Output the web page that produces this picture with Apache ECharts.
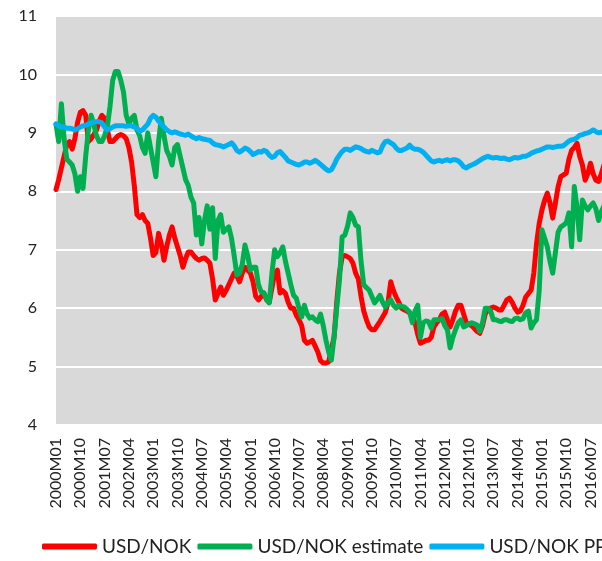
<!DOCTYPE html>
<html>
<head>
<meta charset="utf-8">
<script src="https://cdn.jsdelivr.net/npm/echarts@6/dist/echarts.min.js"></script>
<style>
  html, body { margin: 0; padding: 0; background: #fff; }
  #chart { width: 602px; height: 561px; }
</style>
</head>
<body>
<div id="chart"></div>
<script>
// monthly categories 2000M01 .. 2016M12
const firstYear = 2000;
const lastYear = 2016;
const months = [];
for (let y = firstYear; y <= lastYear; y++) {
    for (let m = 1; m <= 12; m++) {
        months.push(y + 'M' + (m < 10 ? '0' + m : m));
    }
}

const seriesNames = ['USD/NOK', 'USD/NOK estimate', 'USD/NOK PPI'];

// USD/NOK, actual rate
const usdNok = [
    8.03, 8.2, 8.4, 8.6, 8.8, 8.85, 8.72, 8.9, 9.18, 9.35, 9.38, 9.3,
    8.85, 8.9, 8.97, 9.05, 9.2, 9.3, 9.25, 9.05, 8.85, 8.85, 8.9, 8.95,
    8.97, 8.95, 8.9, 8.75, 8.5, 8.1, 7.6, 7.55, 7.6, 7.5, 7.45, 7.2,
    6.9, 6.95, 7.28, 7.1, 6.82, 7.05, 7.25, 7.39, 7.2, 7.05, 6.9, 6.7,
    6.85, 6.96, 6.96, 6.9, 6.85, 6.82, 6.85, 6.86, 6.82, 6.77, 6.5, 6.14,
    6.25, 6.36, 6.22, 6.3, 6.4, 6.5, 6.6, 6.55, 6.45, 6.6, 6.7, 6.65,
    6.6, 6.45, 6.2, 6.14, 6.2, 6.26, 6.14, 6.1, 6.35, 6.6, 6.65, 6.26,
    6.3, 6.25, 6.1, 6.0, 6.0, 5.88, 5.8, 5.7, 5.45, 5.4, 5.42, 5.45,
    5.35, 5.25, 5.1, 5.06, 5.06, 5.08, 5.3, 5.5, 6.1, 6.6, 6.88, 6.9,
    6.88, 6.85, 6.77, 6.6, 6.5, 6.2, 5.95, 5.8, 5.68, 5.63, 5.63, 5.7,
    5.77, 5.85, 5.93, 6.1, 6.45, 6.3, 6.19, 6.1, 6.0, 5.97, 5.95, 5.92,
    5.85, 5.75, 5.55, 5.4, 5.42, 5.45, 5.45, 5.5, 5.68, 5.75, 5.8, 5.9,
    5.93, 5.8, 5.68, 5.8, 5.95, 6.05, 6.05, 5.9, 5.75, 5.72, 5.7, 5.65,
    5.6, 5.57, 5.7, 5.9, 5.97, 6.0, 6.02, 6.0, 5.97, 5.97, 6.05, 6.14,
    6.17, 6.1, 6.0, 5.93, 5.95, 6.05, 6.19, 6.25, 6.31, 6.6, 7.1, 7.45,
    7.68, 7.85, 7.97, 7.8, 7.54, 7.8, 8.08, 8.25, 8.28, 8.31, 8.55, 8.7,
    8.75, 8.82, 8.6, 8.45, 8.19, 8.3, 8.48, 8.3, 8.19, 8.17, 8.3, 8.45
];

// USD/NOK, model estimate
const usdNokEstimate = [
    9.15, 8.85, 9.5, 8.9, 8.55, 8.5, 8.45, 8.3, 8.0, 8.25, 8.05, 8.6,
    9.05, 9.3, 9.15, 8.95, 8.85, 8.85, 8.95, 9.1, 9.45, 9.9, 10.05, 10.05,
    9.9, 9.7, 9.3, 9.15, 9.25, 9.3, 9.05, 8.95, 8.75, 8.65, 9.0, 8.75,
    8.5, 8.25, 8.85, 9.25, 8.95, 8.7, 8.6, 8.45, 8.75, 8.8, 8.6, 8.4,
    8.2, 8.1, 7.9, 7.8, 7.25, 7.55, 7.1, 7.5, 7.75, 7.35, 7.72, 6.85,
    7.5, 7.6, 7.3, 7.35, 7.39, 7.2, 6.9, 6.57, 6.6, 6.75, 7.08, 6.9,
    6.65, 6.7, 6.7, 6.4, 6.28, 6.26, 6.15, 6.09, 6.6, 7.0, 6.88, 6.95,
    7.05, 6.8, 6.6, 6.4, 6.22, 6.17, 6.0, 5.85, 6.05, 5.9, 5.83, 5.85,
    5.8, 5.77, 5.9, 5.7, 5.45, 5.25, 5.11, 5.5, 6.0, 6.48, 7.22, 7.25,
    7.4, 7.63, 7.55, 7.42, 7.39, 6.8, 6.4, 6.35, 6.31, 6.2, 6.09, 6.15,
    6.22, 6.1, 6.02, 6.1, 6.14, 6.05, 6.0, 6.05, 6.03, 6.02, 5.98, 5.93,
    5.75, 5.95, 6.05, 5.5, 5.75, 5.78, 5.77, 5.66, 5.8, 5.8, 5.8, 5.82,
    5.7, 5.63, 5.32, 5.5, 5.63, 5.75, 5.8, 5.68, 5.7, 5.73, 5.75, 5.73,
    5.71, 5.6, 5.75, 6.0, 6.0, 5.95, 5.8, 5.8, 5.78, 5.77, 5.8, 5.8,
    5.78, 5.77, 5.82, 5.83, 5.8, 5.82, 5.92, 5.95, 5.66, 5.75, 5.8, 6.3,
    7.34, 7.2, 7.05, 6.8, 6.6, 6.95, 7.3, 7.39, 7.42, 7.46, 7.63, 7.05,
    8.08, 7.73, 7.17, 7.85, 7.75, 7.68, 7.75, 7.8, 7.7, 7.5, 7.65, 7.75
];

// USD/NOK, purchasing power parity
const usdNokPpi = [
    9.15, 9.12, 9.1, 9.1, 9.08, 9.08, 9.07, 9.05, 9.07, 9.1, 9.12, 9.13,
    9.15, 9.17, 9.19, 9.19, 9.19, 9.17, 9.1, 9.05, 9.07, 9.1, 9.12, 9.12,
    9.12, 9.12, 9.11, 9.12, 9.12, 9.1, 9.08, 9.03, 9.05, 9.1, 9.15, 9.25,
    9.3, 9.27, 9.2, 9.15, 9.1, 9.05, 9.02, 9.0, 9.02, 9.0, 8.98, 8.97,
    8.96, 8.98, 8.95, 8.92, 8.9, 8.92, 8.9, 8.89, 8.88, 8.87, 8.83, 8.8,
    8.79, 8.78, 8.76, 8.78, 8.8, 8.83, 8.78, 8.7, 8.67, 8.7, 8.74, 8.72,
    8.68, 8.63, 8.65, 8.68, 8.67, 8.7, 8.68, 8.62, 8.58, 8.6, 8.66, 8.68,
    8.63, 8.58, 8.52, 8.5, 8.48, 8.46, 8.45, 8.47, 8.5, 8.5, 8.48, 8.5,
    8.53, 8.5, 8.46, 8.42, 8.38, 8.35, 8.37, 8.45, 8.55, 8.62, 8.68, 8.72,
    8.72, 8.7, 8.73, 8.76, 8.75, 8.73, 8.7, 8.68, 8.67, 8.7, 8.68, 8.66,
    8.67, 8.78, 8.85, 8.86, 8.83, 8.8, 8.74, 8.7, 8.7, 8.72, 8.74, 8.79,
    8.74, 8.72, 8.72, 8.7, 8.67, 8.62, 8.57, 8.52, 8.5, 8.52, 8.53, 8.51,
    8.53, 8.54, 8.52, 8.54, 8.54, 8.52, 8.48, 8.42, 8.4, 8.43, 8.45, 8.47,
    8.5, 8.53, 8.56, 8.58, 8.6, 8.58, 8.57, 8.58, 8.57, 8.56, 8.57, 8.55,
    8.54, 8.56, 8.58, 8.57, 8.58, 8.6, 8.6, 8.62, 8.65, 8.67, 8.69, 8.7,
    8.72, 8.74, 8.76, 8.76, 8.75, 8.76, 8.77, 8.77, 8.78, 8.82, 8.86, 8.88,
    8.89, 8.92, 8.96, 8.97, 8.99, 9.0, 9.02, 9.05, 9.02, 9.0, 9.01, 9.01
];

const seriesColors = ['#ff0000', '#00b050', '#00b0f0'];

const chart = echarts.init(document.getElementById('chart'));

const lineSeries = (name, data, color) => ({
    name: name,
    type: 'line',
    data: data,
    symbol: 'none',
    showSymbol: false,
    itemStyle: { color: color },
    lineStyle: { color: color, width: 5, cap: 'round', join: 'round' }
});

const option = {
    animation: false,
    textStyle: { fontFamily: 'Lato' },
    grid: {
        left: 56,
        right: -2,
        top: 16,
        bottom: 136,
        show: true,
        backgroundColor: '#d9d9d9',
        borderWidth: 0,
        containLabel: false,
        outerBoundsMode: 'none'
    },
    legend: {
        data: seriesNames,
        left: 42,
        top: 537,
        width: 900,
        padding: 0,
        itemGap: 6,
        itemWidth: 55,
        itemHeight: 6,
        icon: 'roundRect',
        textStyle: { fontFamily: 'Lato', fontSize: 19, color: '#222' }
    },
    xAxis: {
        type: 'category',
        data: months,
        boundaryGap: false,
        axisLine: { show: false },
        axisTick: { show: false },
        splitLine: { show: false },
        axisLabel: {
            interval: 8,
            rotate: 90,
            margin: 13,
            fontFamily: 'Lato',
            fontSize: 16,
            color: '#222'
        }
    },
    yAxis: {
        type: 'value',
        min: 4,
        max: 11,
        interval: 1,
        axisLine: { show: false },
        axisTick: { show: false },
        splitLine: { lineStyle: { color: '#ffffff', width: 2 } },
        axisLabel: {
            margin: 19,
            fontFamily: 'Lato',
            fontSize: 16,
            color: '#222'
        }
    },
    series: [
        lineSeries(seriesNames[0], usdNok, seriesColors[0]),
        lineSeries(seriesNames[1], usdNokEstimate, seriesColors[1]),
        lineSeries(seriesNames[2], usdNokPpi, seriesColors[2])
    ]
};

chart.setOption(option);
</script>
</body>
</html>
